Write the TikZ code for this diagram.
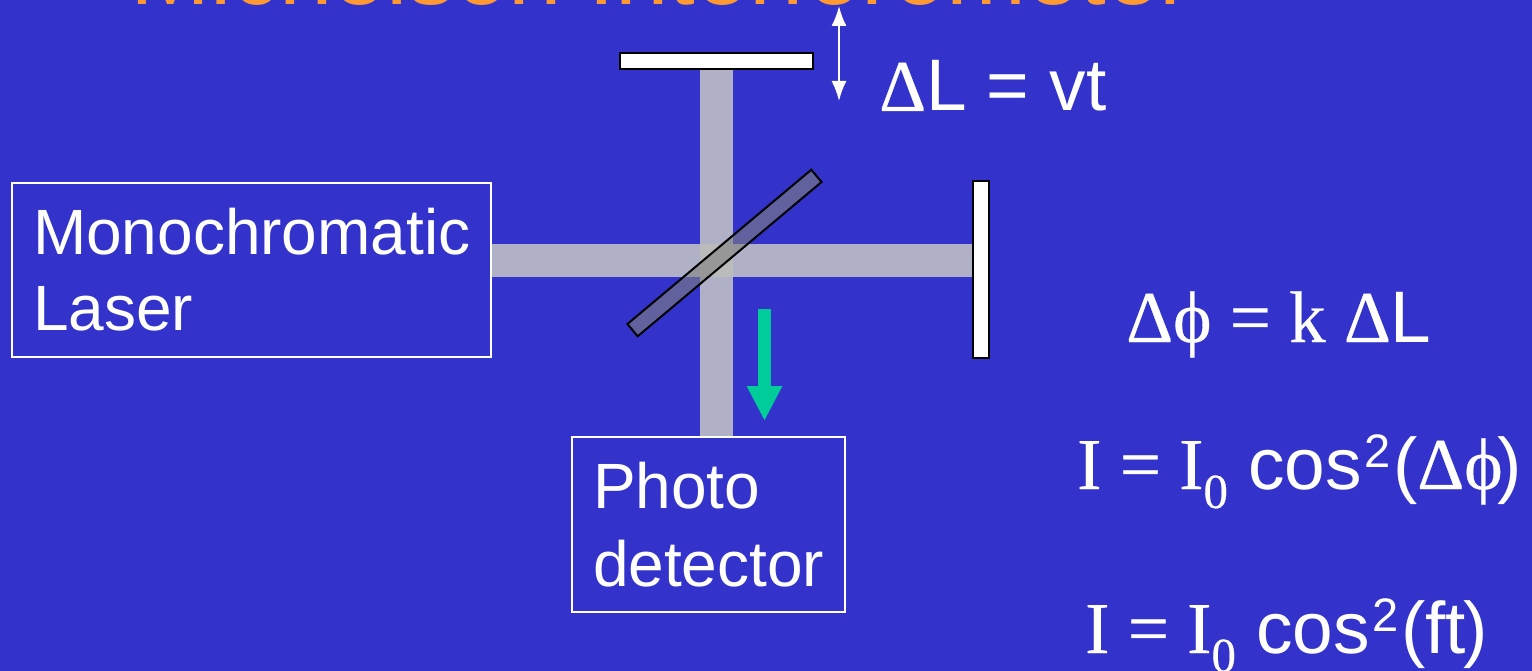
\documentclass[tikz,border=0pt]{standalone}
\usepackage{fontspec}
\setmainfont{Liberation Sans}
\newfontfamily\serifeq[FakeBold=.4]{Liberation Serif}
\usepackage{tikz}
\usetikzlibrary{arrows.meta}
\definecolor{slideblue}{HTML}{3333CC}
\definecolor{titleorange}{HTML}{FF9933}
\definecolor{arrowgreen}{HTML}{00CC99}
\definecolor{beamgray}{HTML}{B0B0C6}
\definecolor{crossgray}{HTML}{BBBBBB}
\newcommand{\labelsize}{\fontsize{64}{76}\selectfont}
\newcommand{\eqnsize}{\fontsize{73}{88}\selectfont}
\newcommand{\lowzero}{\raisebox{-19pt}{\fontsize{49}{50}\selectfont\serifeq 0}}
\newcommand{\hightwo}{\kern 3pt\raisebox{22pt}{\fontsize{47}{50}\selectfont 2}\kern 2pt}
\tikzset{
  labelbox/.style = {draw = white, line width = 1.2pt, inner sep = 0, text = white, align = left, font = \labelsize},
  mirror/.style = {draw = black, line width = 2pt, fill = white, inner sep = 0},
  beam/.style = {draw = beamgray, line width = 33pt},
  eqn/.style = {anchor = base west, inner sep = 0, text = white, font = \eqnsize}
}
\begin{document}
\begin{tikzpicture}[x = 1pt, y = -1pt]
\useasboundingbox (0, 0) rectangle (1532, 671);
\clip (0, 0) rectangle (1532, 671);
\fill [slideblue] (0, 0) rectangle (1532, 671);
\node [anchor = base west, inner sep = 0, text = titleorange, font = \fontsize{96}{100}\selectfont] (title) at (130, 5) {Michelson Interferometer};
\node [labelbox, minimum width = 479pt, minimum height = 174pt, text width = 479pt - 42pt] (laser) at (251.5, 270) {Monochromatic\\Laser};
\node [labelbox, minimum width = 273pt, minimum height = 175pt, text width = 273pt - 42pt] (detector) at (708.5, 524.5) {Photo\\[2pt]detector};
\node [mirror, minimum width = 193pt, minimum height = 16pt] (mirrortop) at (716.5, 61) {};
\node [mirror, minimum width = 16pt, minimum height = 177pt] (mirrorright) at (981, 269.5) {};
\coordinate (beamcross) at (716.5, 261);
\draw [beam] (laser.east |- beamcross) -- (mirrorright.west |- beamcross);
\draw [beam] (mirrortop.south) -- (mirrortop.south |- detector.north);
\node [fill = crossgray, minimum size = 33pt, inner sep = 0] (crossing) at (beamcross) {};
\node [draw = black, line width = 2pt, fill = gray, fill opacity = .6, minimum width = 240pt, minimum height = 16pt, inner sep = 0, rotate = 40] (splitter) at (724.5, 253) {};
\coordinate (greenstart) at (764.5, 309);
\coordinate (greenend) at (764.5, 421);
\draw [draw = arrowgreen, line width = 13pt, -{Triangle[length = 35pt, width = 33pt]}] (greenstart) -- (greenend);
\coordinate (traveltop) at (839, 6);
\coordinate (travelbottom) at (839, 101);
\draw [draw = white, line width = 2pt, {Latex[length = 20pt, width = 15pt]}-{Latex[length = 20pt, width = 15pt]}] (traveltop) -- (travelbottom);
\node [eqn] (travel) at (879, 111) {{\serifeq Δ}L = vt};
\node [eqn] (phase) at (1126, 342) {{\serifeq Δϕ = k Δ}L};
\node [eqn] (intensity) at (1077, 489) {{\serifeq I = I}\lowzero{} cos\hightwo({\serifeq Δϕ}\kern -5pt)};
\node [eqn] (signal) at (1085, 653) {{\serifeq I = I}\lowzero{} cos\hightwo(ft\kern -2pt)};
\end{tikzpicture}
\end{document}
